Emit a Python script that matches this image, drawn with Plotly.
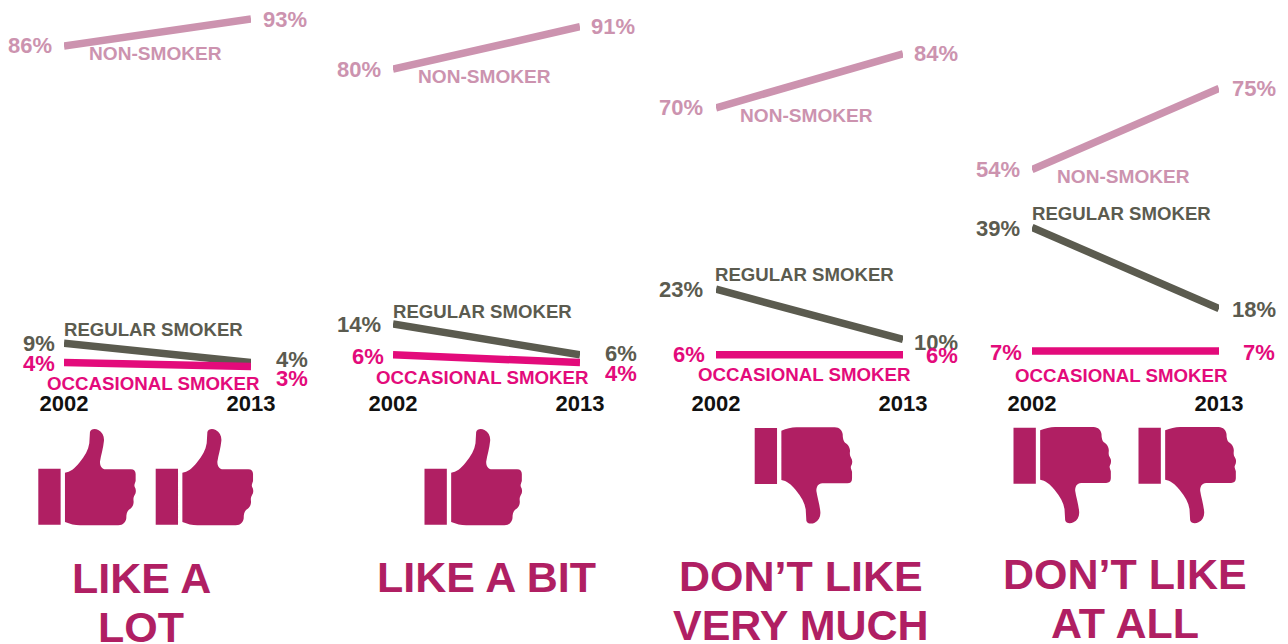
import plotly.graph_objects as go

WIDTH, HEIGHT = 1288, 644

years = [2002, 2013]
non_smoker = [[86, 93], [80, 91], [70, 84], [54, 75]]
regular_smoker = [[9, 4], [14, 6], [23, 10], [39, 18]]
occasional_smoker = [[4, 3], [6, 4], [6, 6], [7, 7]]

series_names = ["NON-SMOKER", "REGULAR SMOKER", "OCCASIONAL SMOKER"]
series_values = [non_smoker, regular_smoker, occasional_smoker]
series_colors = ["#CC93AF", "#5B5B4F", "#E30B7B"]
series_label_sizes = [19.1, 18.6, 18.7]

ICON_COLOR = "#B01F63"
FONT = "Liberation Sans"

# Horizontal extent of each small multiple and the baseline of the shared scale
panel_spans = [(64, 251), (393, 580), (716, 903), (1032, 1219)]
baseline_px = 378
px_per_percent = 3.86

# Vertical nudges (pixels, + is downward) for the value labels: [2002, 2013] per series
label_nudges = [
    [[-1, 0], [0, -3], [1, 12]],
    [[0, 0], [1, -1], [2, 11]],
    [[0, 0], [0, 3], [0, 1]],
    [[0, 0], [1, 1], [2, 2]],
]

# Distance (pixels) from each line end to its value label: [2002, 2013] per series
label_gaps = [
    [[12, 12], [9, 25], [9, 25]],
    [[12, 11], [12, 25], [9, 25]],
    [[13, 11], [13, 11], [11, 23]],
    [[12, 13], [12, 13], [10, 24]],
]

# Series captions: centre position in pixels for each panel, in series order
caption_centres = [
    [(155, 53), (153, 329), (153, 383)],
    [(484, 76), (482, 311), (482, 377)],
    [(806, 115), (804, 274), (804, 374)],
    [(1123, 176), (1121, 213), (1121, 375)],
]

# Panel headings: (text, centre x, centre y)
headings = [
    ("LIKE A", 141, 578),
    ("LOT", 141, 627),
    ("LIKE A BIT", 486, 577),
    ("DON\u2019T LIKE", 801, 576),
    ("VERY MUCH", 801, 625),
    ("DON\u2019T LIKE", 1125, 574),
    ("AT ALL", 1125, 623),
]

# Thumb icons: (left edge, top edge, direction)
icons = [
    (38.3, 428.3, "up"),
    (155.7, 428.3, "up"),
    (424.5, 428.3, "up"),
    (754.7, 427.3, "down"),
    (1013.5, 427.0, "down"),
    (1138.5, 427.0, "down"),
]

# Hand outline in an icon-local grid, three units per pixel
HAND = [
    ("M", [(80, 133)]),
    ("C", [(95, 131), (110, 120), (123, 103)]),
    ("C", [(140, 83), (150, 65), (153, 45)]),
    ("L", [(155, 11)]),
    ("C", [(157, 2), (170, 0), (180, 5)]),
    ("C", [(192, 11), (198, 23), (197, 37)]),
    ("C", [(195, 60), (188, 80), (185, 100)]),
    ("C", [(185, 113), (190, 122), (203, 123)]),
    ("L", [(278, 123)]),
    ("C", [(287, 123), (292, 128), (292, 137)]),
    ("L", [(292, 158)]),
    ("C", [(290, 165), (287, 170), (289, 175)]),
    ("C", [(294, 183), (294, 193), (289, 200)]),
    ("C", [(285, 207), (285, 213), (286, 220)]),
    ("C", [(286, 233), (278, 241), (271, 245)]),
    ("C", [(266, 250), (264, 258), (264, 270)]),
    ("C", [(263, 280), (255, 291), (240, 291)]),
    ("L", [(125, 291)]),
    ("C", [(110, 291), (95, 287), (80, 281)]),
]
CUFF = [(0, 121), (67, 121), (67, 289), (0, 289)]
ICON_GRID_HEIGHT = 291


def px_x(x):
    return x / WIDTH


def px_y(y):
    return 1 - y / HEIGHT


def icon_path(left, top, direction):
    """Build the SVG path of one thumb icon in paper coordinates."""

    def place(point):
        gx, gy = point
        if direction == "down":
            gy = ICON_GRID_HEIGHT - gy
        return f"{px_x(left + gx / 3):.5f},{px_y(top + gy / 3):.5f}"

    hand = " ".join(f"{cmd}{' '.join(place(p) for p in pts)}" for cmd, pts in HAND) + " Z"
    cuff = "M" + " L".join(place(p) for p in CUFF) + " Z"
    return hand + " " + cuff


fig = go.Figure()
annotations = []

for i, (x0, x1) in enumerate(panel_spans):
    suffix = "" if i == 0 else str(i + 1)
    fig.update_layout(
        {
            f"xaxis{suffix}": dict(
                domain=[px_x(x0), px_x(x1)],
                range=years,
                anchor=f"y{suffix}",
                tickvals=years,
                ticktext=[str(y) for y in years],
                tickfont=dict(family=FONT, size=22, color="#111111", weight="bold"),
                showgrid=False,
                zeroline=False,
                showline=False,
                ticks="",
                ticklabelstandoff=10,
                automargin=False,
            ),
            f"yaxis{suffix}": dict(
                domain=[px_y(baseline_px), 1],
                range=[0, baseline_px / px_per_percent],
                anchor=f"x{suffix}",
                visible=False,
                automargin=False,
            ),
        }
    )

    for s, name in enumerate(series_names):
        values = series_values[s][i]
        color = series_colors[s]
        fig.add_trace(
            go.Scatter(
                x=years,
                y=values,
                name=name,
                mode="lines",
                line=dict(color=color, width=7.5),
                xaxis=f"x{suffix}",
                yaxis=f"y{suffix}",
                showlegend=False,
                hoverinfo="skip",
            )
        )
        # Percentage labels beside both ends of the line
        for end, (year, value) in enumerate(zip(years, values)):
            shift = label_gaps[i][s][end] - 2
            annotations.append(
                dict(
                    x=year,
                    y=value,
                    xref=f"x{suffix}",
                    yref=f"y{suffix}",
                    text=f"<b>{value}%</b>",
                    showarrow=False,
                    xanchor="right" if end == 0 else "left",
                    yanchor="middle",
                    xshift=-shift if end == 0 else shift,
                    yshift=-label_nudges[i][s][end],
                    font=dict(family=FONT, size=22, color=color),
                )
            )
        # Series caption
        cx, cy = caption_centres[i][s]
        annotations.append(
            dict(
                x=px_x(cx),
                y=px_y(cy),
                xref="paper",
                yref="paper",
                text=f"<b>{name}</b>",
                showarrow=False,
                xanchor="center",
                yanchor="middle",
                font=dict(family=FONT, size=series_label_sizes[s], color=color),
            )
        )

for text, cx, cy in headings:
    annotations.append(
        dict(
            x=px_x(cx),
            y=px_y(cy),
            xref="paper",
            yref="paper",
            text=f"<b>{text}</b>",
            showarrow=False,
            xanchor="center",
            yanchor="middle",
            font=dict(family=FONT, size=43, color=ICON_COLOR),
        )
    )

shapes = [
    dict(
        type="path",
        xref="paper",
        yref="paper",
        path=icon_path(left, top, direction),
        fillcolor=ICON_COLOR,
        line=dict(width=0),
        layer="below",
    )
    for left, top, direction in icons
]

fig.update_layout(
    width=WIDTH,
    height=HEIGHT,
    margin=dict(l=0, r=0, t=0, b=0),
    paper_bgcolor="white",
    plot_bgcolor="white",
    showlegend=False,
    annotations=annotations,
    shapes=shapes,
)

fig.write_html("out.html", config={"displayModeBar": False})
